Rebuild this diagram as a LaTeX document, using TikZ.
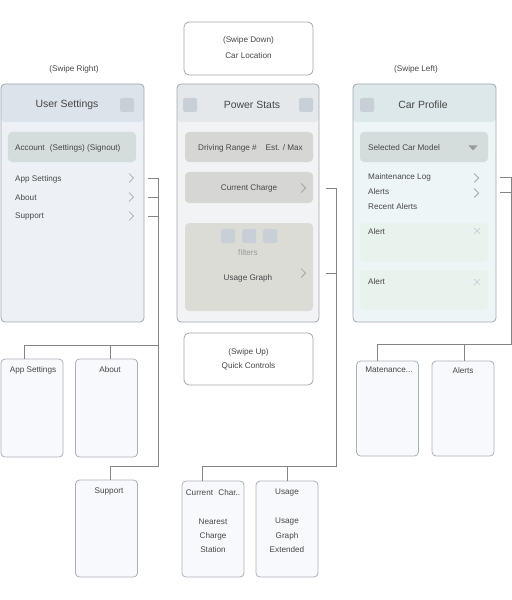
\documentclass[tikz,border=0pt]{standalone}
\usepackage{fontspec}
\setmainfont{Liberation Sans}
\definecolor{bord}{HTML}{A2A7AE}
\definecolor{bbord}{HTML}{A9B0BA}
\definecolor{usH}{HTML}{DCE3EB}
\definecolor{usB}{HTML}{EDF1F6}
\definecolor{psH}{HTML}{E5E8EB}
\definecolor{psB}{HTML}{F2F3F5}
\definecolor{cpH}{HTML}{DCE8E9}
\definecolor{cpB}{HTML}{EEF5F6}
\definecolor{accF}{HTML}{D4DCDC}
\definecolor{grF}{HTML}{D6D6D4}
\definecolor{usgF}{HTML}{DCDCD7}
\definecolor{alF}{HTML}{E7F3EC}
\definecolor{sqF}{HTML}{C9CFD6}
\definecolor{chev}{HTML}{9A9A9A}
\definecolor{txt}{HTML}{474747}
\definecolor{conC}{HTML}{858585}
\definecolor{bfill}{HTML}{F8F9FC}
\tikzset{
  small/.style={font=\fontsize{8.2}{10}\selectfont, text=txt, inner sep=0pt},
  title/.style={font=\fontsize{10.5}{12}\selectfont, text=txt, inner sep=0pt},
  panel/.style={draw=bord, line width=0.8bp, rounded corners=4bp, inner sep=0pt},
  subbox/.style={rounded corners=4bp, inner sep=0pt},
  childbox/.style={draw=bbord, fill=bfill, line width=0.8bp, rounded corners=4bp, inner sep=0pt, minimum width=62bp},
  swipebox/.style={draw=bord, fill=white, line width=0.8bp, rounded corners=5bp, inner sep=0pt, minimum width=129bp},
  sq/.style={fill=sqF, rounded corners=1.5bp, minimum width=14bp, minimum height=14bp, inner sep=0pt},
  conn/.style={draw=conC, line width=0.8bp},
  chv/.style={draw=chev, line width=0.7bp},
}
\newcommand{\chevron}[2]{\draw[chv] (#1-2,#2-4.5) -- (#1+2.5,#2) -- (#1-2,#2+4.5);}
\begin{document}
\begin{tikzpicture}[x=1bp,y=-1bp]
\useasboundingbox (0,0) rectangle (512,600);

% ---------------- swipe labels ----------------
\node[small] (swr) at (74,69) {(Swipe Right)};
\node[small] (swl) at (416,69) {(Swipe Left)};

% ---------------- User Settings panel ----------------
\node[panel, fill=usB, minimum width=143bp, minimum height=238bp,
  path picture={\fill[usH] (path picture bounding box.north west) rectangle ([yshift=-38bp]path picture bounding box.north east);}]
  (us) at (72.5,203) {};
\node[title] (usT) at (67,105) {User Settings};
\node[sq] (usSq) at (127,105) {};
\node[subbox, fill=accF, minimum width=128bp, minimum height=30bp] (acc) at (72,147) {};
\node[small, anchor=west] (accT) at (15,148) {Account\hspace{3bp} (Settings) (Signout)};
\node[small, anchor=west] (usAS) at (15,179) {App Settings};
\node[small, anchor=west] (usAb) at (15,197.5) {About};
\node[small, anchor=west] (usSu) at (15,216.5) {Support};
\chevron{131}{178}
\chevron{131}{197}
\chevron{131}{216}
\coordinate (sAS) at (148,178);
\coordinate (sAb) at (148,197);
\coordinate (sSu) at (148,216);

% ---------------- Power Stats panel ----------------
\node[swipebox, minimum height=53bp] (sd) at (248.5,48.5) {};
\node[small] (sdT1) at (248.5,40) {(Swipe Down)};
\node[small] (sdT2) at (248.5,55.5) {Car Location};

\node[panel, fill=psB, minimum width=142bp, minimum height=238bp,
  path picture={\fill[psH] (path picture bounding box.north west) rectangle ([yshift=-38bp]path picture bounding box.north east);}]
  (ps) at (248,203) {};
\node[title] (psT) at (252,105) {Power Stats};
\node[sq] (psSq1) at (190,105) {};
\node[sq] (psSq2) at (306,105) {};
\node[subbox, fill=grF, minimum width=128bp, minimum height=30bp] (dr) at (249,147) {};
\node[small] (drT) at (250.5,148) {Driving Range \#\hspace{9bp}Est. / Max};
\node[subbox, fill=grF, minimum width=128bp, minimum height=31bp] (cc) at (249,187.5) {};
\node[small] (ccT) at (249,188) {Current Charge};
\chevron{303}{188}
\node[subbox, fill=usgF, minimum width=128bp, minimum height=88bp] (ug) at (249,267) {};
\node[sq] (f1) at (228,236) {};
\node[sq] (f2) at (249,236) {};
\node[sq] (f3) at (270,236) {};
\node[small, text=chev] (fT) at (248,252.5) {filters};
\node[small] (ugT) at (248,278) {Usage Graph};
\chevron{303}{273}
\coordinate (sCC) at (326,188);
\coordinate (sUG) at (326,273);

\node[swipebox, minimum height=52bp] (su) at (248.5,359) {};
\node[small] (suT1) at (248.5,352) {(Swipe Up)};
\node[small] (suT2) at (248.5,366.5) {Quick Controls};

% ---------------- Car Profile panel ----------------
\node[panel, fill=cpB, minimum width=143bp, minimum height=238bp,
  path picture={\fill[cpH] (path picture bounding box.north west) rectangle ([yshift=-38bp]path picture bounding box.north east);}]
  (cp) at (424.5,203) {};
\node[title] (cpT) at (423,105) {Car Profile};
\node[sq] (cpSq) at (367,105) {};
\node[subbox, fill=accF, minimum width=128bp, minimum height=30bp] (scm) at (424,147) {};
\node[small, anchor=west] (scmT) at (368,147.5) {Selected Car Model};
\fill[chev] (468.5,145.5) -- (477.5,145.5) -- (473,150.5) -- cycle;
\node[small, anchor=west] (cpML) at (368,177.5) {Maintenance Log};
\node[small, anchor=west] (cpAl) at (368,192) {Alerts};
\node[small, anchor=west] (cpRA) at (368,206.5) {Recent Alerts};
\chevron{476}{178}
\chevron{476}{193}
\node[subbox, fill=alF, minimum width=128bp, minimum height=39bp] (a1) at (424,242.5) {};
\node[subbox, fill=alF, minimum width=128bp, minimum height=40bp] (a2) at (424,290) {};
\node[small, anchor=west] (a1T) at (368,232) {Alert};
\node[small, anchor=west] (a2T) at (368,281.5) {Alert};
\draw[draw=sqF, line width=0.7bp] (474,228) -- (480,234) (474,234) -- (480,228);
\draw[draw=sqF, line width=0.7bp] (474,279) -- (480,285) (474,285) -- (480,279);
\coordinate (sML) at (500,177);
\coordinate (sAl) at (500,192);

% ---------------- child boxes ----------------
\node[childbox, minimum height=98bp] (bAS) at (32,408) {};
\node[small, anchor=north] (bAST) at (33,366) {App Settings};
\node[childbox, minimum height=98bp] (bAb) at (106.5,408) {};
\node[small, anchor=north] (bAbT) at (110,366) {About};
\node[childbox, minimum height=97bp] (bSu) at (106.5,528.5) {};
\node[small, anchor=north] (bSuT) at (109,488) {Support};

\node[childbox, minimum height=96bp] (bCC) at (213,529) {};
\node[small, anchor=north] (bCCT) at (213,489) {Current\hspace{3bp} Char..};
\node[small] (bCC1) at (213,522) {Nearest};
\node[small] (bCC2) at (213,536.5) {Charge};
\node[small] (bCC3) at (213,550) {Station};
\node[childbox, minimum height=96bp] (bUG) at (287,529) {};
\node[small, anchor=north] (bUGT) at (287,489) {Usage};
\node[small] (bUG1) at (287,522) {Usage};
\node[small] (bUG2) at (287,536.5) {Graph};
\node[small] (bUG3) at (287,550) {Extended};

\node[childbox, minimum height=95bp] (bML) at (387.5,408.5) {};
\node[small, anchor=north] (bMLT) at (389,367) {Matenance...};
\node[childbox, minimum height=95bp] (bAl) at (463,408.5) {};
\node[small, anchor=north] (bAlT) at (463,367) {Alerts};

% ---------------- connectors ----------------
\coordinate (L1) at (158,345);
\coordinate (L2) at (158,466);
\coordinate (M1) at (336,466);
\coordinate (R1) at (511,344);
\draw[conn] (sAS) -| (L1) -| ([xshift=-8bp]bAS.north);
\draw[conn] (sAb) -| (L1) -| ([xshift=3.5bp]bAb.north);
\draw[conn] (sSu) -| (L2) -| ([xshift=3.5bp]bSu.north);
\draw[conn] (sCC) -| (M1) -| ([xshift=-11bp]bCC.north);
\draw[conn] (sUG) -| (M1) -| (bUG.north);
\draw[conn] (sML) -| (R1) -| ([xshift=-10.5bp]bML.north);
\draw[conn] (sAl) -| (R1) -| ([xshift=1bp]bAl.north);
\end{tikzpicture}
\end{document}
